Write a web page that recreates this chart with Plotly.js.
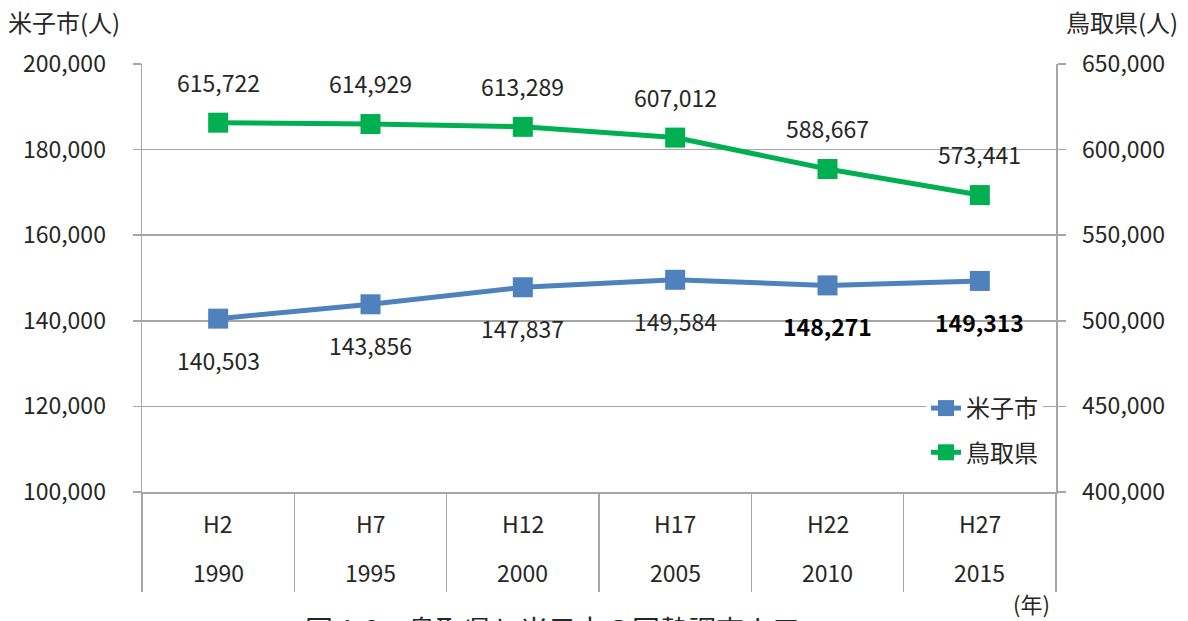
<!DOCTYPE html>
<html>
<head>
<meta charset="utf-8">
<script src="https://cdn.plot.ly/plotly-3.0.1.min.js"></script>
<style>html,body{margin:0;padding:0;background:#fff;}#chart{width:1188px;height:621px;}</style>
</head>
<body>
<div id="chart"></div>
<script>
const years = ['1990', '1995', '2000', '2005', '2010', '2015'];
const eraLabels = ['H2', 'H7', 'H12', 'H17', 'H22', 'H27'];
const yonagoValues = [140503, 143856, 147837, 149584, 148271, 149313];
const tottoriValues = [615722, 614929, 613289, 607012, 588667, 573441];
const yonagoBold = [false, false, false, false, true, true];
const yonagoName = '米子市';
const tottoriName = '鳥取県';

const FONT = '"Noto Sans CJK JP", "Noto Sans", sans-serif';
const TXT = '#262626';
const GRID = '#a6a6a6';
const BLUE = '#4f81bd';
const GREEN = '#00b050';
const FS = 23;

const traces = [
  {
    x: years, y: yonagoValues, name: yonagoName, type: 'scatter', mode: 'lines+markers',
    line: {color: BLUE, width: 5}, marker: {symbol: 'square', size: 20, color: BLUE},
    yaxis: 'y', legendgroup: 'a'
  },
  {
    x: years, y: tottoriValues, name: tottoriName, type: 'scatter', mode: 'lines+markers',
    line: {color: GREEN, width: 5}, marker: {symbol: 'square', size: 20, color: GREEN},
    yaxis: 'y2', legendgroup: 'b'
  }
];

const fmt = v => v.toLocaleString('en-US');
const annotations = [];
years.forEach((yr, i) => {
  annotations.push({
    x: i, y: yonagoValues[i], xref: 'x', yref: 'y', yshift: -41, showarrow: false,
    text: yonagoBold[i] ? '<b>' + fmt(yonagoValues[i]) + '</b>' : fmt(yonagoValues[i]),
    font: {family: FONT, size: FS, color: yonagoBold[i] ? '#000' : TXT}
  });
  annotations.push({
    x: i, y: tottoriValues[i], xref: 'x', yref: 'y2', yshift: 41, showarrow: false,
    text: fmt(tottoriValues[i]), font: {family: FONT, size: FS, color: TXT}
  });
  annotations.push({
    x: i, y: (492 - 523) / 428, xref: 'x', yref: 'paper', showarrow: false, yanchor: 'middle',
    text: eraLabels[i], font: {family: FONT, size: FS, color: TXT}
  });
  annotations.push({
    x: i, y: (492 - 572) / 428, xref: 'x', yref: 'paper', showarrow: false, yanchor: 'middle',
    text: yr, font: {family: FONT, size: FS, color: TXT}
  });
});
annotations.push({
  x: (6 - 142) / 914, y: (492 - 22) / 428, xref: 'paper', yref: 'paper', xanchor: 'left', yanchor: 'middle',
  showarrow: false, text: '米子市(人)', font: {family: FONT, size: 24, color: TXT}
});
annotations.push({
  x: (1180 - 142) / 914, y: (492 - 22) / 428, xref: 'paper', yref: 'paper', xanchor: 'right', yanchor: 'middle',
  showarrow: false, text: '鳥取県(人)', font: {family: FONT, size: 24, color: TXT}
});
annotations.push({
  x: (1052 - 142) / 914, y: (492 - 603) / 428, xref: 'paper', yref: 'paper', xanchor: 'right', yanchor: 'middle',
  showarrow: false, text: '(年)', font: {family: FONT, size: 22, color: TXT}
});
annotations.push({
  x: (303 - 142) / 914, y: (492 - 629) / 428, xref: 'paper', yref: 'paper', xanchor: 'left', yanchor: 'middle',
  showarrow: false, text: '図 1-2　鳥取県と米子市の国勢調査人口', font: {family: FONT, size: 28, color: TXT}
});

const layout = {
  width: 1188, height: 621,
  margin: {l: 142, r: 132, t: 64, b: 129},
  paper_bgcolor: '#fff', plot_bgcolor: '#fff',
  font: {family: FONT, size: FS, color: TXT},
  showlegend: true,
  legend: {
    x: (926 - 142) / 914, y: (492 - 386) / 428, xanchor: 'left', yanchor: 'top',
    bgcolor: '#fff', font: {family: FONT, size: 24, color: TXT},
    traceorder: 'grouped', tracegroupgap: 10
  },
  xaxis: {
    type: 'category', range: [-0.5, 5.5], showgrid: false, zeroline: false,
    showline: true, linecolor: GRID, linewidth: 1.5,
    ticks: 'outside', tickson: 'boundaries', ticklen: 98, tickcolor: GRID, tickwidth: 1.5,
    showticklabels: false, fixedrange: true
  },
  yaxis: {
    range: [100000, 200000], dtick: 20000, tickformat: ',d',
    showgrid: true, gridcolor: GRID, gridwidth: 1.5, zeroline: false,
    showline: true, linecolor: GRID, linewidth: 1.5,
    ticks: 'outside', ticklen: 8, tickcolor: GRID, tickwidth: 1.5,
    ticklabelstandoff: 22, tickfont: {family: FONT, size: FS, color: TXT}
  },
  yaxis2: {
    range: [400000, 650000], dtick: 50000, tickformat: ',d', overlaying: 'y', side: 'right',
    showgrid: false, zeroline: false,
    showline: true, linecolor: GRID, linewidth: 1.5,
    ticks: 'outside', ticklen: 8, tickcolor: GRID, tickwidth: 1.5,
    ticklabelstandoff: 12, tickfont: {family: FONT, size: FS, color: TXT}
  },
  annotations: annotations
};

Plotly.newPlot('chart', traces, layout, {displayModeBar: false, staticPlot: true});
</script>
</body>
</html>
